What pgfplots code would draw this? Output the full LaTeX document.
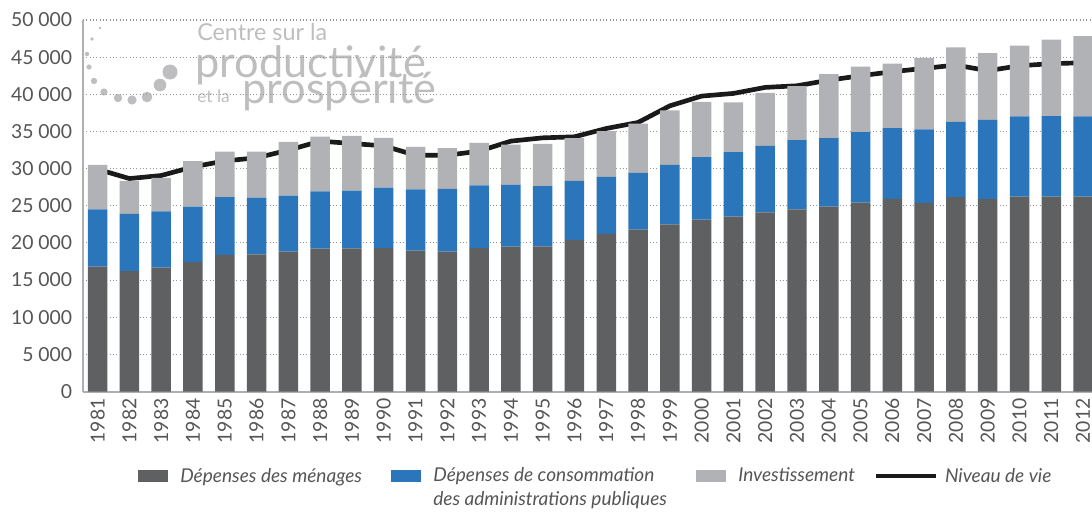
\documentclass[border=0pt]{standalone}
\usepackage{fontspec}
\setmainfont{Lato}
\usepackage{pgfplots}
\pgfplotsset{compat=1.18}
\usepackage{pgfplotstable}

\definecolor{cdark}{RGB}{95,96,98}
\definecolor{cblue}{RGB}{43,117,187}
\definecolor{clight}{RGB}{177,178,181}
\definecolor{cgrid}{RGB}{150,150,150}
\definecolor{caxis}{RGB}{175,175,178}
\definecolor{ctext}{RGB}{85,85,85}
\definecolor{cwm}{RGB}{190,190,192}

\pgfplotstableread{
year men adm inv niv
1981 16800 7700 6000 29920
1982 16200 7700 4450 28660
1983 16670 7590 4490 29070
1984 17430 7470 6100 30230
1985 18400 7750 6150 31040
1986 18460 7640 6200 31450
1987 18820 7550 7230 32480
1988 19230 7720 7350 33700
1989 19270 7770 7370 33380
1990 19300 8150 6690 33060
1991 18960 8260 5710 31800
1992 18820 8450 5480 31800
1993 19300 8460 5710 32350
1994 19500 8350 5390 33700
1995 19540 8090 5700 34140
1996 20400 7950 5750 34280
1997 21200 7690 6150 35400
1998 21790 7640 6640 36210
1999 22500 8000 7330 38450
2000 23140 8400 7450 39760
2001 23540 8670 6690 40120
2002 24120 8940 7140 40930
2003 24530 9300 7270 41150
2004 24890 9210 8620 41900
2005 25430 9480 8800 42500
2006 25920 9520 8680 43040
2007 25380 9890 9650 43490
2008 26150 10150 10020 43940
2009 25880 10690 8980 43170
2010 26240 10780 9520 43850
2011 26240 10820 10290 44120
2012 26240 10780 10820 44250
}\datatable

\begin{document}
\begin{tikzpicture}[x=0.75pt,y=0.75pt]
\useasboundingbox (0,0) rectangle (1092,512);
% watermark
\begin{scope}[cwm]
\node[anchor=base west, inner sep=0pt, font=\fontsize{17.5}{18}\selectfont] at (197,472) {Centre sur la};
\node[anchor=base west, inner sep=0pt, font=\fontsize{32.5}{30}\selectfont] at (195,435) {\raisebox{0pt}[\height][0pt]{productivité}};
\node[anchor=base west, inner sep=0pt, font=\fontsize{13}{13}\selectfont] at (197,410) {et la};
\node[anchor=base west, inner sep=0pt, font=\fontsize{32.5}{30}\selectfont] at (242,409) {\raisebox{0pt}[0pt][\depth]{prospérité}};
\fill (100,484) circle (1.3);
\fill (92,473) circle (1.8);
\fill (87,458) circle (2.2);
\fill (89,445) circle (2.6);
\fill (94,431) circle (3.2);
\fill (104,420) circle (3.6);
\fill (118,414) circle (4.2);
\fill (132,412) circle (4.6);
\fill (147,415) circle (5.3);
\fill (160,427) circle (6.3);
\fill (170,440) circle (7.5);
\end{scope}
\begin{axis}[
  at={(62.25pt,90.375pt)}, anchor=south west,
  scale only axis, width=756.75pt, height=278.625pt,
  xmin=1980.54, xmax=2012.28, ymin=0, ymax=50000,
  ybar stacked, bar width=0.613,
  axis x line*=bottom, axis y line*=left,
  axis line style={caxis, line width=1.5pt, -},
  xtick={1981,...,2012}, ytick={0,5000,...,50000},
  major tick length=0pt,
  scaled y ticks=false,
  ymajorgrids,
  grid style={cgrid, line width=0.8pt, dash pattern=on 0.8pt off 1.7pt},
  tick label style={font=\fontsize{14.5}{16}\selectfont, text=ctext, /pgf/number format/assume math mode=true},
  x tick label style={rotate=90, anchor=east, inner sep=0pt, /pgf/number format/1000 sep={}},
  y tick label style={anchor=east, inner sep=0pt, /pgf/number format/1000 sep={\ }},
  xticklabel shift=5pt,
  yticklabel shift=8pt,
  legend style={at={(0.0545,-0.2275)}, anchor=west, draw=none, fill=none, inner sep=0pt,
    font=\itshape\fontsize{14.3}{16}\selectfont, text=ctext,
    nodes={inner sep=0pt},
    /tikz/every odd column/.append style={column sep=9pt},
    /tikz/every even column/.append style={column sep=22pt}},
  legend columns=4,
  legend cell align=left,
]
\addplot[fill=cdark, draw=none, legend image code/.code={\fill[cdark] (0pt,-4.5pt) rectangle (22.5pt,4.5pt);}] table[x=year,y=men]{\datatable};
\addlegendentry{Dépenses des ménages}
\addplot[fill=cblue, draw=none, legend image code/.code={\fill[cblue] (0pt,-4.5pt) rectangle (22.5pt,4.5pt);}] table[x=year,y=adm]{\datatable};
\addlegendentry{\vphantom{Dp}\smash{\begin{tabular}[t]{@{}l@{}}Dépenses de consommation\\[2pt]des administrations publiques\end{tabular}}}
\addplot[fill=clight, draw=none, legend image code/.code={\fill[clight] (0pt,-4.5pt) rectangle (22.5pt,4.5pt);}] table[x=year,y=inv]{\datatable};
\addlegendentry{Investissement\hspace*{-8pt}}
\addplot[stack plots=false, sharp plot, no markers, color={rgb,255:red,26;green,26;blue,26}, line width=3.5pt, line join=round,
  legend image code/.code={\draw[line width=3.5pt, color={rgb,255:red,26;green,26;blue,26}] (0pt,0pt) -- (45pt,0pt);}] table[x=year,y=niv]{\datatable};
\addlegendentry{\hspace*{-4pt}Niveau de vie}
\end{axis}
\end{tikzpicture}
\end{document}
